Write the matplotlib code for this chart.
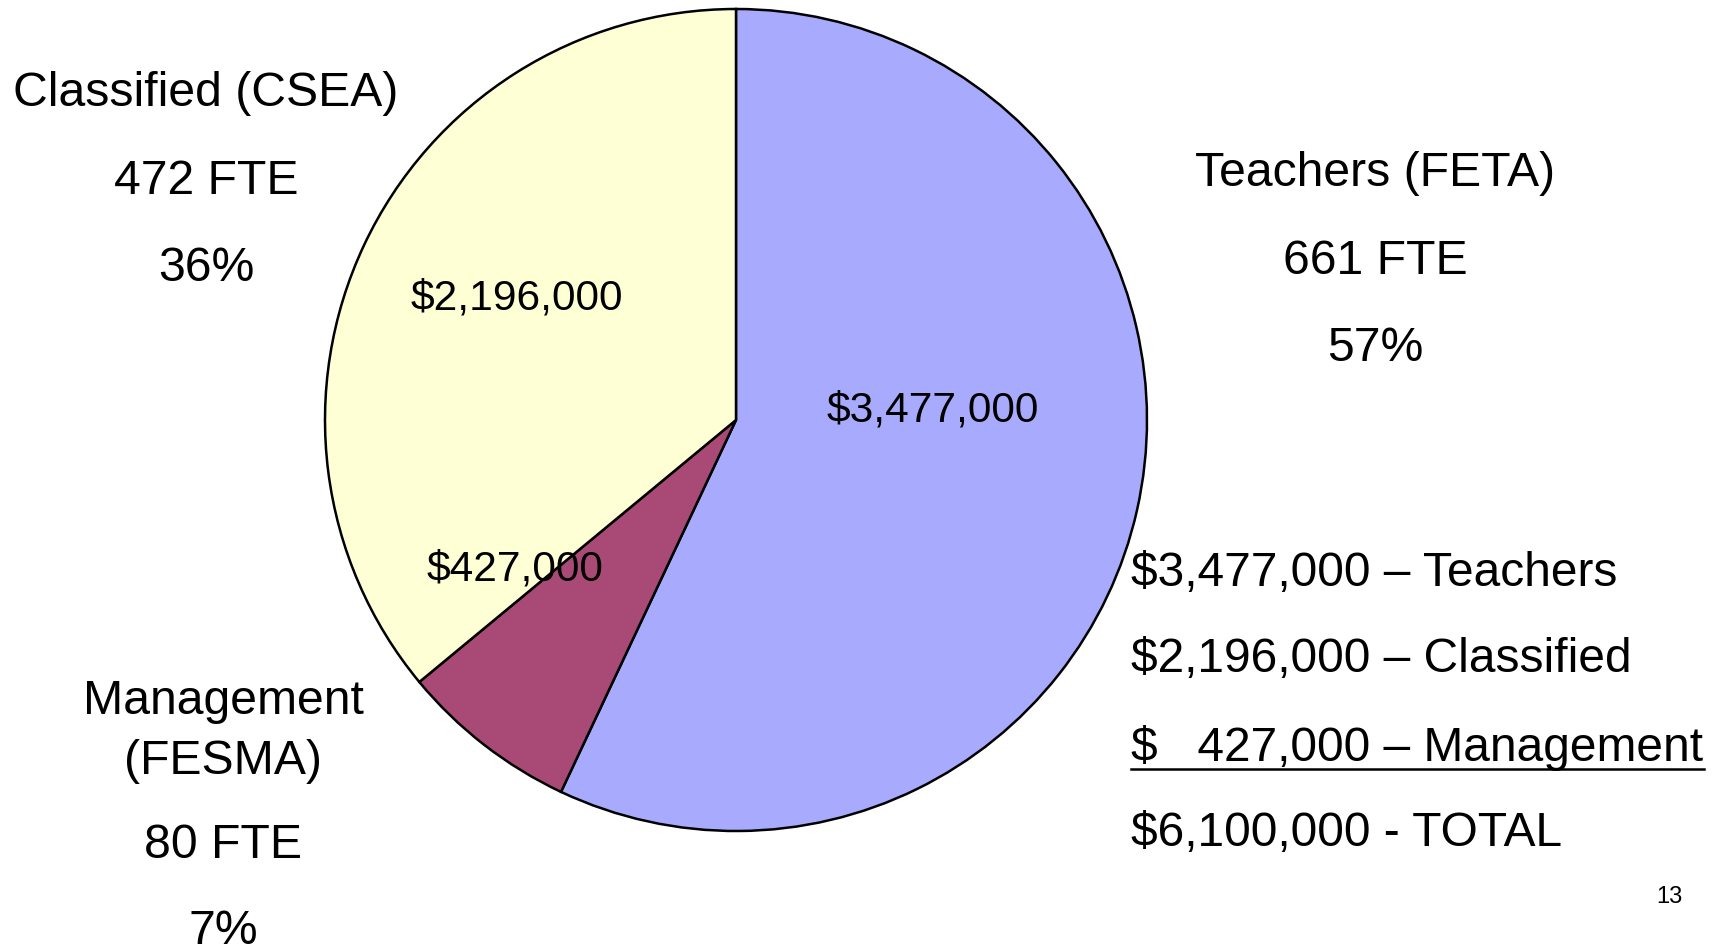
import matplotlib
matplotlib.use("Agg")
import matplotlib.pyplot as plt

plt.rcParams['font.family'] = ['Liberation Sans', 'DejaVu Sans']

groups = ["Teachers (FETA)", "Management\n(FESMA)", "Classified (CSEA)"]
amounts = [3477000, 427000, 2196000]
fte = [661, 80, 472]
pcts = [57, 7, 36]
colors = ['#A8AAFD', '#A94A76', '#FFFFD6']
list_lines = ["$3,477,000 \u2013 Teachers", "$2,196,000 \u2013 Classified",
              "$   427,000 \u2013 Management", "$6,100,000 - TOTAL"]
page_no = "13"

W, H = 1722, 948
fig = plt.figure(figsize=(W / 100, H / 100), dpi=100)
ax = fig.add_axes([0, 0, 1, 1])
ax.set_xlim(0, W)
ax.set_ylim(0, H)
ax.set_aspect('equal')
ax.axis('off')

DY = 3
def Y(y):
    return H - y - DY

cx, cy, r = 736, H - 420, 411
wedges, _ = ax.pie(amounts, colors=colors, startangle=90, counterclock=False,
                   center=(cx, cy), radius=r, frame=True,
                   wedgeprops=dict(edgecolor='black', linewidth=1.8))
ax.set_xlim(0, W)
ax.set_ylim(0, H)
ax.axis('off')

# inside amount labels
inside_pos = [(933, 407), (515, 567), (517, 295)]
for (x, y), a in zip(inside_pos, amounts):
    ax.text(x, Y(y), "${:,}".format(a), ha='center', va='center', fontsize=30.6)

fs = 34.7
# Teachers
ax.text(1375, Y(170), groups[0], ha='center', va='center', fontsize=fs)
ax.text(1375, Y(258), f"{fte[0]} FTE", ha='center', va='center', fontsize=fs)
ax.text(1375, Y(345), f"{pcts[0]}%", ha='center', va='center', fontsize=fs)
# Classified
ax.text(206, Y(90), groups[2], ha='center', va='center', fontsize=fs)
ax.text(206, Y(178), f"{fte[2]} FTE", ha='center', va='center', fontsize=fs)
ax.text(206, Y(265), f"{pcts[2]}%", ha='center', va='center', fontsize=fs)
# Management
m1, m2 = groups[1].split("\n")
ax.text(223, Y(698), m1, ha='center', va='center', fontsize=fs)
ax.text(223, Y(758), m2, ha='center', va='center', fontsize=fs)
ax.text(223, Y(843), f"{fte[1]} FTE", ha='center', va='center', fontsize=fs)
ax.text(223, Y(929), f"{pcts[1]}%", ha='center', va='center', fontsize=fs)

# right list
list_y = [570, 657, 745, 830]
for s, y in zip(list_lines, list_y):
    ax.text(1131, Y(y), s, ha='left', va='center', fontsize=34.5)
ax.plot([1131, 1704], [H - 769, H - 769], color='black', linewidth=1.8)

ax.text(1669, Y(894), page_no, ha='center', va='center', fontsize=17)

fig.savefig("out.png", dpi=100)
